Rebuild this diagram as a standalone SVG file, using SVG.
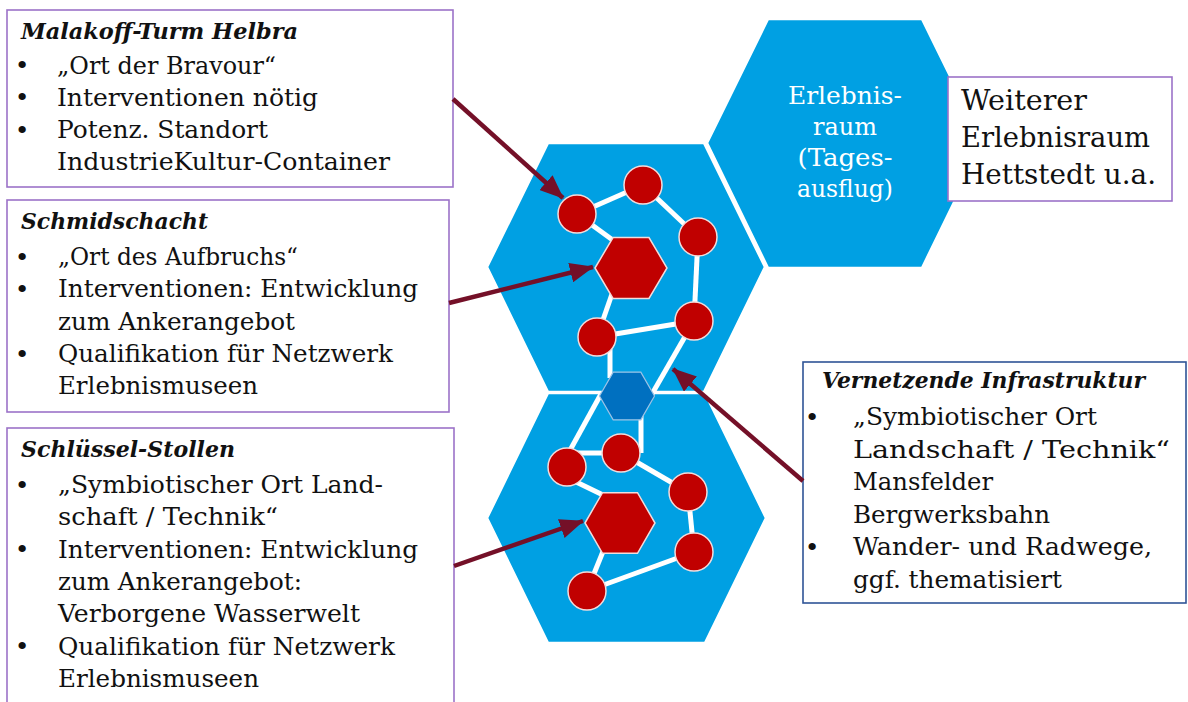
<svg xmlns="http://www.w3.org/2000/svg" width="1188" height="702" viewBox="0 0 1188 702">
<style>
.hex{fill:#00A0E3;stroke:#fff;stroke-width:2.5}
.link{stroke:#fff;stroke-width:5;fill:none}
.node{fill:#C00000;stroke:#F2DCDC;stroke-width:1.5}
.box{fill:#fff;stroke:#9C72C8;stroke-width:1.6}
.boxb{fill:#fff;stroke:#2F5496;stroke-width:1.6}
.t{font-family:"DejaVu Serif","Liberation Serif",serif;font-size:25px;fill:#111}
.ti{font-family:"DejaVu Serif","Liberation Serif",serif;font-size:22px;font-weight:bold;font-style:italic;fill:#111}
.b{font-family:"DejaVu Serif","Liberation Serif",serif;font-size:25px;fill:#111;text-anchor:middle}
.w{font-family:"DejaVu Serif","Liberation Serif",serif;font-size:25px;fill:#fff;text-anchor:middle}
.big{font-family:"DejaVu Serif","Liberation Serif",serif;font-size:28px;fill:#111}
.arrow{stroke:#741028;stroke-width:4.5;fill:none;marker-end:url(#ah)}
</style>
<defs>
<marker id="ah" markerUnits="userSpaceOnUse" markerWidth="24" markerHeight="20" refX="23" refY="10" orient="auto">
<path d="M0,0 L24,10 L0,20 Z" fill="#741028"/>
</marker>
</defs>
<rect width="1188" height="702" fill="#fff"/>

<g id="hex-erlebnisraum">
<polygon class="hex" points="707,143 768,19 922,19 983,143 922,268 768,268"/>
<text class="w" x="845" y="104" textLength="114" lengthAdjust="spacingAndGlyphs">Erlebnis-</text>
<text class="w" x="845" y="135" textLength="64" lengthAdjust="spacingAndGlyphs">raum</text>
<text class="w" x="845" y="166" textLength="95" lengthAdjust="spacingAndGlyphs">(Tages-</text>
<text class="w" x="845" y="197" textLength="96" lengthAdjust="spacingAndGlyphs">ausflug)</text>
</g>
<g id="hex-upper">
<polygon class="hex" points="487,267 548,143 704,143 765,267 704,392 548,392"/>
</g>
<g id="hex-lower">
<polygon class="hex" points="487,518 548,393 705,393 766,518 705,643 548,643"/>
</g>

<g id="network-links">
<line class="link" x1="577" y1="214" x2="643" y2="185"/>
<line class="link" x1="643" y1="185" x2="698" y2="237"/>
<line class="link" x1="577" y1="214" x2="614" y2="241"/>
<line class="link" x1="698" y1="237" x2="694" y2="321"/>
<line class="link" x1="612" y1="294" x2="597" y2="337"/>
<line class="link" x1="597" y1="337" x2="694" y2="321"/>
<line class="link" x1="610" y1="345" x2="610" y2="378"/>
<line class="link" x1="694" y1="321" x2="652" y2="394"/>
<line class="link" x1="601" y1="394" x2="563" y2="463"/>
<line class="link" x1="641" y1="414" x2="641" y2="453"/>
<line class="link" x1="567" y1="453" x2="621" y2="453"/>
<line class="link" x1="570" y1="479" x2="603" y2="495"/>
<line class="link" x1="621" y1="453" x2="688" y2="492"/>
<line class="link" x1="688" y1="492" x2="694" y2="552"/>
<line class="link" x1="604" y1="549" x2="587" y2="591"/>
<line class="link" x1="587" y1="591" x2="694" y2="552"/>
</g>

<g id="network-nodes">
<circle class="node" cx="577" cy="214" r="19"/>
<circle class="node" cx="643" cy="185" r="19"/>
<circle class="node" cx="698" cy="237" r="19"/>
<polygon class="node" points="595,268 613,237.5 649,237.5 667,268 649,298.5 613,298.5"/>
<circle class="node" cx="597" cy="337" r="19"/>
<circle class="node" cx="694" cy="321" r="19"/>
<polygon fill="#0070C0" stroke="#9DC3E6" stroke-width="1.2" points="599.5,396 613.2,372.2 640.8,372.2 654.5,396 640.8,419.8 613.2,419.8"/>
<circle class="node" cx="567" cy="467" r="19"/>
<circle class="node" cx="621" cy="453" r="19"/>
<circle class="node" cx="688" cy="492" r="19"/>
<polygon class="node" points="585,523 602.5,492.7 637.5,492.7 655,523 637.5,553.3 602.5,553.3"/>
<circle class="node" cx="694" cy="552" r="19"/>
<circle class="node" cx="587" cy="591" r="19"/>
</g>

<g id="box-malakoff">
<rect class="box" x="7" y="10" width="446" height="177"/>
<text class="ti" x="21" y="39" textLength="277" lengthAdjust="spacingAndGlyphs">Malakoff-Turm Helbra</text>
<text class="b" x="22" y="74">•</text>
<text class="b" x="22" y="106">•</text>
<text class="b" x="22" y="139">•</text>
<text class="t" x="57" y="73.5" textLength="219" lengthAdjust="spacingAndGlyphs">„Ort der Bravour“</text>
<text class="t" x="57" y="105.8" textLength="261" lengthAdjust="spacingAndGlyphs">Interventionen nötig</text>
<text class="t" x="57" y="138.1" textLength="211" lengthAdjust="spacingAndGlyphs">Potenz. Standort</text>
<text class="t" x="57" y="170.4" textLength="333" lengthAdjust="spacingAndGlyphs">IndustrieKultur-Container</text>
</g>

<g id="box-schmidschacht">
<rect class="box" x="7" y="200" width="442" height="212"/>
<text class="ti" x="21" y="229" textLength="187" lengthAdjust="spacingAndGlyphs">Schmidschacht</text>
<text class="b" x="22" y="266">•</text>
<text class="b" x="22" y="298">•</text>
<text class="b" x="22" y="363">•</text>
<text class="t" x="58" y="265" textLength="240" lengthAdjust="spacingAndGlyphs">„Ort des Aufbruchs“</text>
<text class="t" x="58" y="297.3" textLength="360" lengthAdjust="spacingAndGlyphs">Interventionen: Entwicklung</text>
<text class="t" x="58" y="329.6" textLength="237" lengthAdjust="spacingAndGlyphs">zum Ankerangebot</text>
<text class="t" x="58" y="361.9" textLength="335" lengthAdjust="spacingAndGlyphs">Qualifikation für Netzwerk</text>
<text class="t" x="58" y="394.2" textLength="200" lengthAdjust="spacingAndGlyphs">Erlebnismuseen</text>
</g>

<g id="box-schluessel-stollen">
<rect class="box" x="7" y="428" width="447" height="300"/>
<text class="ti" x="21" y="457" textLength="214" lengthAdjust="spacingAndGlyphs">Schlüssel-Stollen</text>
<text class="b" x="22" y="494">•</text>
<text class="b" x="22" y="558">•</text>
<text class="b" x="22" y="655">•</text>
<text class="t" x="58" y="493" textLength="325" lengthAdjust="spacingAndGlyphs">„Symbiotischer Ort Land-</text>
<text class="t" x="58" y="525.3" textLength="220" lengthAdjust="spacingAndGlyphs">schaft / Technik“</text>
<text class="t" x="58" y="557.6" textLength="360" lengthAdjust="spacingAndGlyphs">Interventionen: Entwicklung</text>
<text class="t" x="58" y="589.9" textLength="244" lengthAdjust="spacingAndGlyphs">zum Ankerangebot:</text>
<text class="t" x="58" y="622.2" textLength="302" lengthAdjust="spacingAndGlyphs">Verborgene Wasserwelt</text>
<text class="t" x="58" y="654.5" textLength="337" lengthAdjust="spacingAndGlyphs">Qualifikation für Netzwerk</text>
<text class="t" x="58" y="686.8" textLength="201" lengthAdjust="spacingAndGlyphs">Erlebnismuseen</text>
</g>

<g id="box-infrastruktur">
<rect class="boxb" x="803" y="362" width="383" height="241"/>
<text class="ti" x="822" y="388" textLength="323" lengthAdjust="spacingAndGlyphs">Vernetzende Infrastruktur</text>
<text class="b" x="812" y="426">•</text>
<text class="b" x="812" y="556">•</text>
<text class="t" x="853" y="425" textLength="244" lengthAdjust="spacingAndGlyphs">„Symbiotischer Ort</text>
<text class="t" x="853" y="457.5" textLength="317" lengthAdjust="spacingAndGlyphs">Landschaft / Technik“</text>
<text class="t" x="853" y="490" textLength="140" lengthAdjust="spacingAndGlyphs">Mansfelder</text>
<text class="t" x="853" y="522.5" textLength="197" lengthAdjust="spacingAndGlyphs">Bergwerksbahn</text>
<text class="t" x="853" y="555" textLength="299" lengthAdjust="spacingAndGlyphs">Wander- und Radwege,</text>
<text class="t" x="853" y="587.5" textLength="209" lengthAdjust="spacingAndGlyphs">ggf. thematisiert</text>
</g>

<g id="box-weiterer">
<rect class="box" x="948" y="77" width="224" height="124"/>
<text class="big" x="961" y="110" textLength="126" lengthAdjust="spacingAndGlyphs">Weiterer</text>
<text class="big" x="961" y="147" textLength="189" lengthAdjust="spacingAndGlyphs">Erlebnisraum</text>
<text class="big" x="961" y="184" textLength="195" lengthAdjust="spacingAndGlyphs">Hettstedt u.a.</text>
</g>

<g id="connectors">
<line class="arrow" x1="453" y1="99" x2="563" y2="198"/>
<line class="arrow" x1="449" y1="303" x2="593" y2="267"/>
<line class="arrow" x1="454" y1="566" x2="583" y2="521"/>
<line class="arrow" x1="803" y1="481" x2="673" y2="369"/>
</g>
</svg>
